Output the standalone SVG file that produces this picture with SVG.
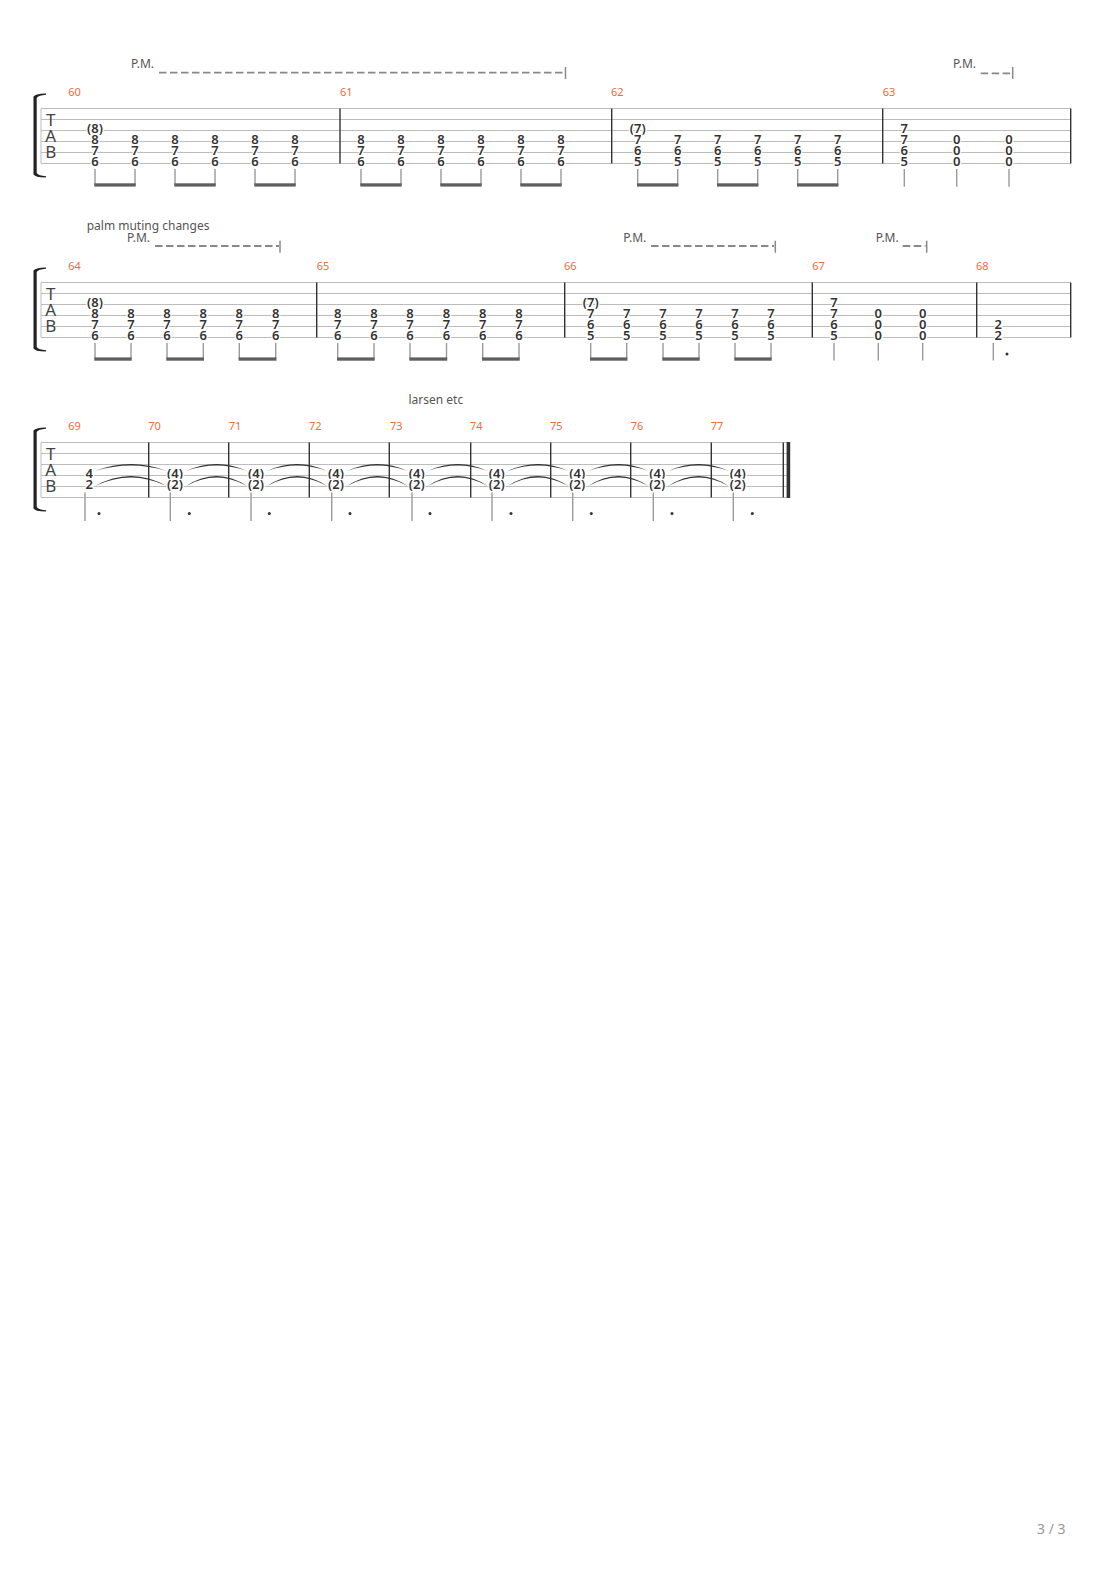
<svg xmlns="http://www.w3.org/2000/svg" xmlns:xlink="http://www.w3.org/1999/xlink" width="1110" height="1570" viewBox="0 0 1110 1570">
<style>
.st{stroke:#bcbcbc;stroke-width:1}
.bl{stroke:#333;stroke-width:1.4}
.sm{stroke:#9a9a9a;stroke-width:1.4}
.bm{fill:#5f5f5f}
.n{font-family:"Noto Sans","DejaVu Sans",sans-serif;font-size:13px;font-weight:600;fill:#333;text-anchor:middle;stroke:#fff;stroke-width:2.5;paint-order:stroke}
.mn{font-family:"Noto Sans","DejaVu Sans",sans-serif;font-size:11px;fill:#f26b3a}
.tx{font-family:"Noto Sans","DejaVu Sans",sans-serif;font-size:12px;fill:#555}
.pm{stroke:#888;stroke-width:1.8;stroke-dasharray:7.5 3.5;fill:none}
.tk{stroke:#888;stroke-width:1.5}
.tab{font-family:"Noto Sans","DejaVu Sans",sans-serif;font-size:17px;fill:#444;text-anchor:middle}
.tie{fill:#333}
.dot{fill:#333}
.pg{font-family:"Noto Sans","DejaVu Sans",sans-serif;font-size:14px;fill:#999}
</style>
<defs>
<g id="bracket">
<rect x="33.5" y="3" width="3.2" height="78" fill="#222"/>
<path d="M33.5,3.5 Q34.5,0 46,0 L46,1.3 Q38.5,1.8 36.7,4.5 Z" fill="#222"/>
<path d="M33.5,80.5 Q34.5,84 46,84 L46,82.7 Q38.5,82.2 36.7,79.5 Z" fill="#222"/>
</g>
<g id="tabclef">
<text class="tab" x="50.7" y="17.5">T</text>
<text class="tab" x="50.7" y="33.5">A</text>
<text class="tab" x="50.7" y="49.5">B</text>
</g>
</defs>
<rect width="1110" height="1570" fill="#fff"/>

<!-- ================= SYSTEM 1 ================= -->
<g id="system1">
<use xlink:href="#bracket" transform="translate(0,93.5)"/>
<g id="s1-staff">
<line class="st" x1="41" y1="108.5" x2="1070.7" y2="108.5"/>
<line class="st" x1="41" y1="119.5" x2="1070.7" y2="119.5"/>
<line class="st" x1="41" y1="130.5" x2="1070.7" y2="130.5"/>
<line class="st" x1="41" y1="141.5" x2="1070.7" y2="141.5"/>
<line class="st" x1="41" y1="152.5" x2="1070.7" y2="152.5"/>
<line class="st" x1="41" y1="163.5" x2="1070.7" y2="163.5"/>
<line class="st" x1="41" y1="108.5" x2="41" y2="163.5"/>
<use xlink:href="#tabclef" transform="translate(0,108.5)"/>
<line class="bl" x1="340" y1="108.5" x2="340" y2="163.5"/>
<line class="bl" x1="611.7" y1="108.5" x2="611.7" y2="163.5"/>
<line class="bl" x1="882.7" y1="108.5" x2="882.7" y2="163.5"/>
<line class="bl" x1="1070.7" y1="108.5" x2="1070.7" y2="163.5"/>
</g>
<g id="s1-text">
<text class="tx" x="131" y="68.3">P.M.</text>
<line class="pm" x1="159" y1="72.7" x2="564" y2="72.7"/>
<line class="tk" x1="565.5" y1="67" x2="565.5" y2="79"/>
<text class="tx" x="953" y="68.3">P.M.</text>
<line class="pm" x1="980.7" y1="73.3" x2="1011.5" y2="73.3"/>
<line class="tk" x1="1012.7" y1="67" x2="1012.7" y2="79"/>
<text class="mn" x="68.3" y="96.3">60</text>
<text class="mn" x="340" y="96.3">61</text>
<text class="mn" x="611" y="96.3">62</text>
<text class="mn" x="882.7" y="96.3">63</text>
</g>
<g id="m60" transform="translate(0,-1.7)">
<text class="n" x="95" y="135.2">(8)</text>
<text class="n" x="95" y="146.2">8</text><text class="n" x="95" y="157.2">7</text><text class="n" x="95" y="168.2">6</text>
<text class="n" x="135" y="146.2">8</text><text class="n" x="135" y="157.2">7</text><text class="n" x="135" y="168.2">6</text>
<text class="n" x="175" y="146.2">8</text><text class="n" x="175" y="157.2">7</text><text class="n" x="175" y="168.2">6</text>
<text class="n" x="215" y="146.2">8</text><text class="n" x="215" y="157.2">7</text><text class="n" x="215" y="168.2">6</text>
<text class="n" x="255" y="146.2">8</text><text class="n" x="255" y="157.2">7</text><text class="n" x="255" y="168.2">6</text>
<text class="n" x="295" y="146.2">8</text><text class="n" x="295" y="157.2">7</text><text class="n" x="295" y="168.2">6</text>
</g>
<g id="m61" transform="translate(0,-1.7)">
<text class="n" x="361" y="146.2">8</text><text class="n" x="361" y="157.2">7</text><text class="n" x="361" y="168.2">6</text>
<text class="n" x="401" y="146.2">8</text><text class="n" x="401" y="157.2">7</text><text class="n" x="401" y="168.2">6</text>
<text class="n" x="441" y="146.2">8</text><text class="n" x="441" y="157.2">7</text><text class="n" x="441" y="168.2">6</text>
<text class="n" x="481" y="146.2">8</text><text class="n" x="481" y="157.2">7</text><text class="n" x="481" y="168.2">6</text>
<text class="n" x="521" y="146.2">8</text><text class="n" x="521" y="157.2">7</text><text class="n" x="521" y="168.2">6</text>
<text class="n" x="561" y="146.2">8</text><text class="n" x="561" y="157.2">7</text><text class="n" x="561" y="168.2">6</text>
</g>
<g id="m62" transform="translate(0,-1.7)">
<text class="n" x="637.7" y="135.2">(7)</text>
<text class="n" x="637.7" y="146.2">7</text><text class="n" x="637.7" y="157.2">6</text><text class="n" x="637.7" y="168.2">5</text>
<text class="n" x="677.7" y="146.2">7</text><text class="n" x="677.7" y="157.2">6</text><text class="n" x="677.7" y="168.2">5</text>
<text class="n" x="717.7" y="146.2">7</text><text class="n" x="717.7" y="157.2">6</text><text class="n" x="717.7" y="168.2">5</text>
<text class="n" x="757.7" y="146.2">7</text><text class="n" x="757.7" y="157.2">6</text><text class="n" x="757.7" y="168.2">5</text>
<text class="n" x="797.7" y="146.2">7</text><text class="n" x="797.7" y="157.2">6</text><text class="n" x="797.7" y="168.2">5</text>
<text class="n" x="837.7" y="146.2">7</text><text class="n" x="837.7" y="157.2">6</text><text class="n" x="837.7" y="168.2">5</text>
</g>
<g id="m63" transform="translate(0,-1.7)">
<text class="n" x="904.3" y="135.2">7</text>
<text class="n" x="904.3" y="146.2">7</text><text class="n" x="904.3" y="157.2">6</text><text class="n" x="904.3" y="168.2">5</text>
<text class="n" x="956.7" y="146.2">0</text><text class="n" x="956.7" y="157.2">0</text><text class="n" x="956.7" y="168.2">0</text>
<text class="n" x="1009" y="146.2">0</text><text class="n" x="1009" y="157.2">0</text><text class="n" x="1009" y="168.2">0</text>
</g>
<g id="s1-stems">
<line class="sm" x1="95" y1="169" x2="95" y2="185"/><line class="sm" x1="135" y1="169" x2="135" y2="185"/>
<line class="sm" x1="175" y1="169" x2="175" y2="185"/><line class="sm" x1="215" y1="169" x2="215" y2="185"/>
<line class="sm" x1="255" y1="169" x2="255" y2="185"/><line class="sm" x1="295" y1="169" x2="295" y2="185"/>
<line class="sm" x1="361" y1="169" x2="361" y2="185"/><line class="sm" x1="401" y1="169" x2="401" y2="185"/>
<line class="sm" x1="441" y1="169" x2="441" y2="185"/><line class="sm" x1="481" y1="169" x2="481" y2="185"/>
<line class="sm" x1="521" y1="169" x2="521" y2="185"/><line class="sm" x1="561" y1="169" x2="561" y2="185"/>
<line class="sm" x1="637.7" y1="169" x2="637.7" y2="185"/><line class="sm" x1="677.7" y1="169" x2="677.7" y2="185"/>
<line class="sm" x1="717.7" y1="169" x2="717.7" y2="185"/><line class="sm" x1="757.7" y1="169" x2="757.7" y2="185"/>
<line class="sm" x1="797.7" y1="169" x2="797.7" y2="185"/><line class="sm" x1="837.7" y1="169" x2="837.7" y2="185"/>
<line class="sm" x1="904.3" y1="169" x2="904.3" y2="186.7"/>
<line class="sm" x1="956.7" y1="169" x2="956.7" y2="186.7"/>
<line class="sm" x1="1009" y1="169" x2="1009" y2="186.7"/>
<rect class="bm" x="94.3" y="183.3" width="41.4" height="3.3"/>
<rect class="bm" x="174.3" y="183.3" width="41.4" height="3.3"/>
<rect class="bm" x="254.3" y="183.3" width="41.4" height="3.3"/>
<rect class="bm" x="360.3" y="183.3" width="41.4" height="3.3"/>
<rect class="bm" x="440.3" y="183.3" width="41.4" height="3.3"/>
<rect class="bm" x="520.3" y="183.3" width="41.4" height="3.3"/>
<rect class="bm" x="637" y="183.3" width="41.4" height="3.3"/>
<rect class="bm" x="717" y="183.3" width="41.4" height="3.3"/>
<rect class="bm" x="797" y="183.3" width="41.4" height="3.3"/>
</g>
</g>

<!-- ================= SYSTEM 2 ================= -->
<g id="system2">
<use xlink:href="#bracket" transform="translate(0,267.5)"/>
<g id="s2-staff">
<line class="st" x1="41" y1="282.5" x2="1070.7" y2="282.5"/>
<line class="st" x1="41" y1="293.5" x2="1070.7" y2="293.5"/>
<line class="st" x1="41" y1="304.5" x2="1070.7" y2="304.5"/>
<line class="st" x1="41" y1="315.5" x2="1070.7" y2="315.5"/>
<line class="st" x1="41" y1="326.5" x2="1070.7" y2="326.5"/>
<line class="st" x1="41" y1="337.5" x2="1070.7" y2="337.5"/>
<line class="st" x1="41" y1="282.5" x2="41" y2="337.5"/>
<use xlink:href="#tabclef" transform="translate(0,282.5)"/>
<line class="bl" x1="316.7" y1="282.5" x2="316.7" y2="337.5"/>
<line class="bl" x1="564.7" y1="282.5" x2="564.7" y2="337.5"/>
<line class="bl" x1="812.3" y1="282.5" x2="812.3" y2="337.5"/>
<line class="bl" x1="976.7" y1="282.5" x2="976.7" y2="337.5"/>
<line class="bl" x1="1070.7" y1="282.5" x2="1070.7" y2="337.5"/>
</g>
<g id="s2-text">
<text class="tx" x="86.7" y="230.3">palm muting changes</text>
<text class="tx" x="127" y="242.3">P.M.</text>
<line class="pm" x1="155" y1="246" x2="279" y2="246"/>
<line class="tk" x1="280" y1="240.7" x2="280" y2="252.7"/>
<text class="tx" x="623.3" y="242.3">P.M.</text>
<line class="pm" x1="651" y1="246" x2="774" y2="246"/>
<line class="tk" x1="775.3" y1="240.7" x2="775.3" y2="252.7"/>
<text class="tx" x="875.7" y="242.3">P.M.</text>
<line class="pm" x1="902.7" y1="246" x2="925.5" y2="246"/>
<line class="tk" x1="926.7" y1="240.7" x2="926.7" y2="252.7"/>
<text class="mn" x="68.3" y="270">64</text>
<text class="mn" x="316.7" y="270">65</text>
<text class="mn" x="564" y="270">66</text>
<text class="mn" x="812.3" y="270">67</text>
<text class="mn" x="976" y="270">68</text>
</g>
<g id="m64" transform="translate(0,-1.7)">
<text class="n" x="95" y="309.2">(8)</text>
<text class="n" x="95" y="320.2">8</text><text class="n" x="95" y="331.2">7</text><text class="n" x="95" y="342.2">6</text>
<text class="n" x="131" y="320.2">8</text><text class="n" x="131" y="331.2">7</text><text class="n" x="131" y="342.2">6</text>
<text class="n" x="167" y="320.2">8</text><text class="n" x="167" y="331.2">7</text><text class="n" x="167" y="342.2">6</text>
<text class="n" x="203.3" y="320.2">8</text><text class="n" x="203.3" y="331.2">7</text><text class="n" x="203.3" y="342.2">6</text>
<text class="n" x="239.3" y="320.2">8</text><text class="n" x="239.3" y="331.2">7</text><text class="n" x="239.3" y="342.2">6</text>
<text class="n" x="275.7" y="320.2">8</text><text class="n" x="275.7" y="331.2">7</text><text class="n" x="275.7" y="342.2">6</text>
</g>
<g id="m65" transform="translate(0,-1.7)">
<text class="n" x="337.7" y="320.2">8</text><text class="n" x="337.7" y="331.2">7</text><text class="n" x="337.7" y="342.2">6</text>
<text class="n" x="374" y="320.2">8</text><text class="n" x="374" y="331.2">7</text><text class="n" x="374" y="342.2">6</text>
<text class="n" x="410" y="320.2">8</text><text class="n" x="410" y="331.2">7</text><text class="n" x="410" y="342.2">6</text>
<text class="n" x="446.5" y="320.2">8</text><text class="n" x="446.5" y="331.2">7</text><text class="n" x="446.5" y="342.2">6</text>
<text class="n" x="482.7" y="320.2">8</text><text class="n" x="482.7" y="331.2">7</text><text class="n" x="482.7" y="342.2">6</text>
<text class="n" x="519" y="320.2">8</text><text class="n" x="519" y="331.2">7</text><text class="n" x="519" y="342.2">6</text>
</g>
<g id="m66" transform="translate(0,-1.7)">
<text class="n" x="590.7" y="309.2">(7)</text>
<text class="n" x="590.7" y="320.2">7</text><text class="n" x="590.7" y="331.2">6</text><text class="n" x="590.7" y="342.2">5</text>
<text class="n" x="626.7" y="320.2">7</text><text class="n" x="626.7" y="331.2">6</text><text class="n" x="626.7" y="342.2">5</text>
<text class="n" x="663" y="320.2">7</text><text class="n" x="663" y="331.2">6</text><text class="n" x="663" y="342.2">5</text>
<text class="n" x="699" y="320.2">7</text><text class="n" x="699" y="331.2">6</text><text class="n" x="699" y="342.2">5</text>
<text class="n" x="735" y="320.2">7</text><text class="n" x="735" y="331.2">6</text><text class="n" x="735" y="342.2">5</text>
<text class="n" x="771" y="320.2">7</text><text class="n" x="771" y="331.2">6</text><text class="n" x="771" y="342.2">5</text>
</g>
<g id="m67" transform="translate(0,-1.7)">
<text class="n" x="834" y="309.2">7</text>
<text class="n" x="834" y="320.2">7</text><text class="n" x="834" y="331.2">6</text><text class="n" x="834" y="342.2">5</text>
<text class="n" x="878.3" y="320.2">0</text><text class="n" x="878.3" y="331.2">0</text><text class="n" x="878.3" y="342.2">0</text>
<text class="n" x="922.7" y="320.2">0</text><text class="n" x="922.7" y="331.2">0</text><text class="n" x="922.7" y="342.2">0</text>
</g>
<g id="m68" transform="translate(0,-1.7)">
<text class="n" x="998.3" y="331.2">2</text><text class="n" x="998.3" y="342.2">2</text>
</g>
<g id="s2-stems">
<line class="sm" x1="95" y1="343" x2="95" y2="359"/><line class="sm" x1="131" y1="343" x2="131" y2="359"/>
<line class="sm" x1="167" y1="343" x2="167" y2="359"/><line class="sm" x1="203.3" y1="343" x2="203.3" y2="359"/>
<line class="sm" x1="239.3" y1="343" x2="239.3" y2="359"/><line class="sm" x1="275.7" y1="343" x2="275.7" y2="359"/>
<line class="sm" x1="337.7" y1="343" x2="337.7" y2="359"/><line class="sm" x1="374" y1="343" x2="374" y2="359"/>
<line class="sm" x1="410" y1="343" x2="410" y2="359"/><line class="sm" x1="446.5" y1="343" x2="446.5" y2="359"/>
<line class="sm" x1="482.7" y1="343" x2="482.7" y2="359"/><line class="sm" x1="519" y1="343" x2="519" y2="359"/>
<line class="sm" x1="590.7" y1="343" x2="590.7" y2="359"/><line class="sm" x1="626.7" y1="343" x2="626.7" y2="359"/>
<line class="sm" x1="663" y1="343" x2="663" y2="359"/><line class="sm" x1="699" y1="343" x2="699" y2="359"/>
<line class="sm" x1="735" y1="343" x2="735" y2="359"/><line class="sm" x1="771" y1="343" x2="771" y2="359"/>
<line class="sm" x1="834" y1="343" x2="834" y2="360.5"/>
<line class="sm" x1="878.3" y1="343" x2="878.3" y2="360.5"/>
<line class="sm" x1="922.7" y1="343" x2="922.7" y2="360.5"/>
<line class="sm" x1="993.3" y1="343" x2="993.3" y2="360.5"/>
<circle class="dot" cx="1007" cy="354" r="1.5"/>
<rect class="bm" x="94.3" y="357.4" width="37.4" height="3.3"/>
<rect class="bm" x="166.3" y="357.4" width="37.7" height="3.3"/>
<rect class="bm" x="238.6" y="357.4" width="37.8" height="3.3"/>
<rect class="bm" x="337" y="357.4" width="37.7" height="3.3"/>
<rect class="bm" x="409.3" y="357.4" width="37.9" height="3.3"/>
<rect class="bm" x="482" y="357.4" width="37.7" height="3.3"/>
<rect class="bm" x="590" y="357.4" width="37.4" height="3.3"/>
<rect class="bm" x="662.3" y="357.4" width="37.4" height="3.3"/>
<rect class="bm" x="734.3" y="357.4" width="37.4" height="3.3"/>
</g>
</g>

<!-- ================= SYSTEM 3 ================= -->
<g id="system3">
<use xlink:href="#bracket" transform="translate(0,427.5)"/>
<g id="s3-staff">
<line class="st" x1="41" y1="442.5" x2="790" y2="442.5"/>
<line class="st" x1="41" y1="453.5" x2="790" y2="453.5"/>
<line class="st" x1="41" y1="464.5" x2="790" y2="464.5"/>
<line class="st" x1="41" y1="475.5" x2="790" y2="475.5"/>
<line class="st" x1="41" y1="486.5" x2="790" y2="486.5"/>
<line class="st" x1="41" y1="497.5" x2="790" y2="497.5"/>
<line class="st" x1="41" y1="442.5" x2="41" y2="497.5"/>
<use xlink:href="#tabclef" transform="translate(0,442.5)"/>
<line class="bl" x1="148.7" y1="442.5" x2="148.7" y2="497.5"/>
<line class="bl" x1="228.7" y1="442.5" x2="228.7" y2="497.5"/>
<line class="bl" x1="309.3" y1="442.5" x2="309.3" y2="497.5"/>
<line class="bl" x1="389.3" y1="442.5" x2="389.3" y2="497.5"/>
<line class="bl" x1="470.7" y1="442.5" x2="470.7" y2="497.5"/>
<line class="bl" x1="550.7" y1="442.5" x2="550.7" y2="497.5"/>
<line class="bl" x1="630.7" y1="442.5" x2="630.7" y2="497.5"/>
<line class="bl" x1="711.3" y1="442.5" x2="711.3" y2="497.5"/>
<line class="bl" x1="783.3" y1="442.5" x2="783.3" y2="497.5"/>
<rect x="786.6" y="442" width="3.6" height="56" fill="#333"/>
</g>
<g id="s3-text">
<text class="tx" x="408.5" y="404">larsen etc</text>
<text class="mn" x="68.3" y="429.7">69</text>
<text class="mn" x="148.3" y="429.7">70</text>
<text class="mn" x="228.7" y="429.7">71</text>
<text class="mn" x="309" y="429.7">72</text>
<text class="mn" x="390" y="429.7">73</text>
<text class="mn" x="470" y="429.7">74</text>
<text class="mn" x="550" y="429.7">75</text>
<text class="mn" x="630.7" y="429.7">76</text>
<text class="mn" x="710.7" y="429.7">77</text>
</g>
<g id="s3-ties">
<path class="tie" d="M95,471 Q130.8,457 166.7,471 Q130.8,460 95,471 Z"/>
<path class="tie" d="M95,486 Q130.8,466 166.7,486 Q130.8,469 95,486 Z"/>
<path class="tie" d="M186,471 Q216.5,457 247,471 Q216.5,460 186,471 Z"/>
<path class="tie" d="M186,486 Q216.5,466 247,486 Q216.5,469 186,486 Z"/>
<path class="tie" d="M267,471 Q297,457 327,471 Q297,460 267,471 Z"/>
<path class="tie" d="M267,486 Q297,466 327,486 Q297,469 267,486 Z"/>
<path class="tie" d="M347,471 Q377.3,457 407.7,471 Q377.3,460 347,471 Z"/>
<path class="tie" d="M347,486 Q377.3,466 407.7,486 Q377.3,469 347,486 Z"/>
<path class="tie" d="M427.7,471 Q457.7,457 487.7,471 Q457.7,460 427.7,471 Z"/>
<path class="tie" d="M427.7,486 Q457.7,466 487.7,486 Q457.7,469 427.7,486 Z"/>
<path class="tie" d="M507.7,471 Q538,457 568.3,471 Q538,460 507.7,471 Z"/>
<path class="tie" d="M507.7,486 Q538,466 568.3,486 Q538,469 507.7,486 Z"/>
<path class="tie" d="M588.3,471 Q618.3,457 648.3,471 Q618.3,460 588.3,471 Z"/>
<path class="tie" d="M588.3,486 Q618.3,466 648.3,486 Q618.3,469 588.3,486 Z"/>
<path class="tie" d="M668.3,471 Q698.5,457 728.7,471 Q698.5,460 668.3,471 Z"/>
<path class="tie" d="M668.3,486 Q698.5,466 728.7,486 Q698.5,469 668.3,486 Z"/>
</g>
<g id="m69" transform="translate(0,-2)"><text class="n" x="89.3" y="480.2">4</text><text class="n" x="89.3" y="491.2">2</text></g>
<g id="m70" transform="translate(0,-2)"><text class="n" x="175" y="480.2">(4)</text><text class="n" x="175" y="491.2">(2)</text></g>
<g id="m71" transform="translate(0,-2)"><text class="n" x="256" y="480.2">(4)</text><text class="n" x="256" y="491.2">(2)</text></g>
<g id="m72" transform="translate(0,-2)"><text class="n" x="336" y="480.2">(4)</text><text class="n" x="336" y="491.2">(2)</text></g>
<g id="m73" transform="translate(0,-2)"><text class="n" x="416.7" y="480.2">(4)</text><text class="n" x="416.7" y="491.2">(2)</text></g>
<g id="m74" transform="translate(0,-2)"><text class="n" x="496.7" y="480.2">(4)</text><text class="n" x="496.7" y="491.2">(2)</text></g>
<g id="m75" transform="translate(0,-2)"><text class="n" x="577.3" y="480.2">(4)</text><text class="n" x="577.3" y="491.2">(2)</text></g>
<g id="m76" transform="translate(0,-2)"><text class="n" x="657.3" y="480.2">(4)</text><text class="n" x="657.3" y="491.2">(2)</text></g>
<g id="m77" transform="translate(0,-2)"><text class="n" x="737.7" y="480.2">(4)</text><text class="n" x="737.7" y="491.2">(2)</text></g>
<g id="s3-stems">
<line class="sm" x1="85" y1="492.5" x2="85" y2="521"/>
<line class="sm" x1="170.3" y1="492.5" x2="170.3" y2="521"/>
<line class="sm" x1="251" y1="492.5" x2="251" y2="521"/>
<line class="sm" x1="331.7" y1="492.5" x2="331.7" y2="521"/>
<line class="sm" x1="412" y1="492.5" x2="412" y2="521"/>
<line class="sm" x1="492" y1="492.5" x2="492" y2="521"/>
<line class="sm" x1="572.7" y1="492.5" x2="572.7" y2="521"/>
<line class="sm" x1="653.3" y1="492.5" x2="653.3" y2="521"/>
<line class="sm" x1="733.3" y1="492.5" x2="733.3" y2="521"/>
<circle class="dot" cx="99" cy="513.5" r="1.5"/>
<circle class="dot" cx="189.3" cy="513.5" r="1.5"/>
<circle class="dot" cx="269.3" cy="513.5" r="1.5"/>
<circle class="dot" cx="350" cy="513.5" r="1.5"/>
<circle class="dot" cx="430" cy="513.5" r="1.5"/>
<circle class="dot" cx="511" cy="513.5" r="1.5"/>
<circle class="dot" cx="591.3" cy="513.5" r="1.5"/>
<circle class="dot" cx="672" cy="513.5" r="1.5"/>
<circle class="dot" cx="752.3" cy="513.5" r="1.5"/>
</g>
</g>

<text class="pg" x="1037" y="1534">3 / 3</text>
</svg>
